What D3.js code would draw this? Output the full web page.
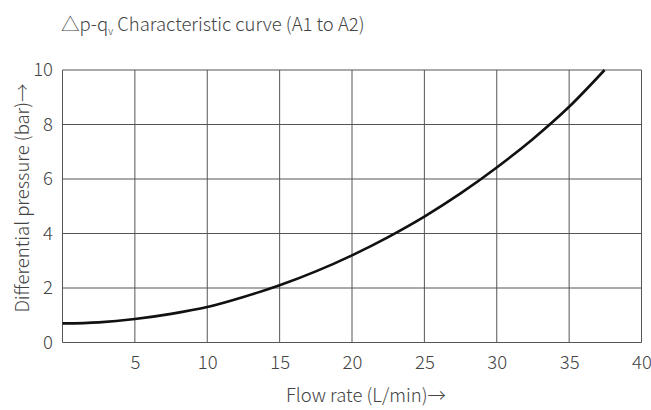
<!DOCTYPE html>
<html>
<head>
<meta charset="utf-8">
<script src="https://cdn.jsdelivr.net/npm/d3@7"></script>
<style>
  html, body { margin: 0; padding: 0; background: #fff; }
  svg { display: block; font-family: "Noto Sans CJK SC", "Noto Sans", sans-serif; font-weight: 300; }
</style>
</head>
<body>
<svg id="chart" width="651" height="410"></svg>
<script>
const flowRate = [0, 2.5, 5, 7.5, 10, 12.5, 15, 17.5, 20, 22.5, 25, 27.5, 30, 32.5, 35, 37.45];
const pressure = [0.70, 0.74, 0.86, 1.05, 1.30, 1.67, 2.10, 2.61, 3.20, 3.87, 4.62, 5.47, 6.42, 7.47, 8.65, 10.0];
const xTicks = [5, 10, 15, 20, 25, 30, 35, 40];
const yTicks = [0, 2, 4, 6, 8, 10];

const svg = d3.select("#chart");
const margin = {left: 62.5, right: 9.5, top: 70, bottom: 67.5};
const W = 651, H = 410;
const FS = "18.5px";
const x = d3.scaleLinear().domain([0, 40]).range([margin.left, W - margin.right]);
const y = d3.scaleLinear().domain([0, 10]).range([H - margin.bottom, margin.top]);
const gridColor = "#555";
const textColor = "#444";

// grid
const g = svg.append("g");
g.selectAll(".vg").data(xTicks).join("line")
  .attr("x1", d => x(d)).attr("x2", d => x(d))
  .attr("y1", y(0)).attr("y2", y(10))
  .attr("stroke", gridColor).attr("stroke-width", 1);
g.selectAll(".hg").data(yTicks).join("line")
  .attr("x1", x(0)).attr("x2", x(40))
  .attr("y1", d => y(d)).attr("y2", d => y(d))
  .attr("stroke", gridColor).attr("stroke-width", 1);
g.append("line").attr("x1", x(0)).attr("x2", x(0)).attr("y1", y(0)).attr("y2", y(10))
  .attr("stroke", gridColor).attr("stroke-width", 1);

// axes labels via d3 axes
const xAxis = d3.axisBottom(x).tickValues(xTicks).tickSize(0).tickPadding(13);
svg.append("g").attr("transform", `translate(0,${y(0)})`).call(xAxis)
  .call(s => s.select(".domain").remove())
  .call(s => s.selectAll("text").attr("fill", textColor).style("font-size", FS)
     .style("font-family", "'Noto Sans CJK SC', 'Noto Sans', sans-serif").style("font-weight", 300));
const yAxis = d3.axisLeft(y).tickValues(yTicks).tickSize(0).tickPadding(9.5);
svg.append("g").attr("transform", `translate(${x(0)},0)`).call(yAxis)
  .call(s => s.select(".domain").remove())
  .call(s => s.selectAll("text").attr("fill", textColor).style("font-size", FS)
     .style("font-family", "'Noto Sans CJK SC', 'Noto Sans', sans-serif").style("font-weight", 300));

// curve
const pts = flowRate.map((q, i) => [q, pressure[i]]);
svg.append("path").datum(pts)
  .attr("fill", "none").attr("stroke", "#111").attr("stroke-width", 2.6)
  .attr("d", d3.line().x(d => x(d[0])).y(d => y(d[1])).curve(d3.curveMonotoneX));

// axis titles
svg.append("text").attr("x", 366).attr("y", 402).attr("text-anchor", "middle")
  .attr("fill", textColor).style("font-size", FS).text("Flow rate (L/min)→");
svg.append("text").attr("transform", "translate(29,198) rotate(-90)").attr("text-anchor", "middle")
  .attr("fill", textColor).style("font-size", FS).text("Differential pressure (bar)→");

// title
const t = svg.append("text").attr("x", 61).attr("y", 31).attr("fill", textColor).style("font-size", FS);
t.append("tspan").text("△p-q");
t.append("tspan").attr("dy", 4).style("font-size", "10px").text("v");
t.append("tspan").attr("dy", -4).text(" Characteristic curve (A1 to A2)");
</script>
</body>
</html>
